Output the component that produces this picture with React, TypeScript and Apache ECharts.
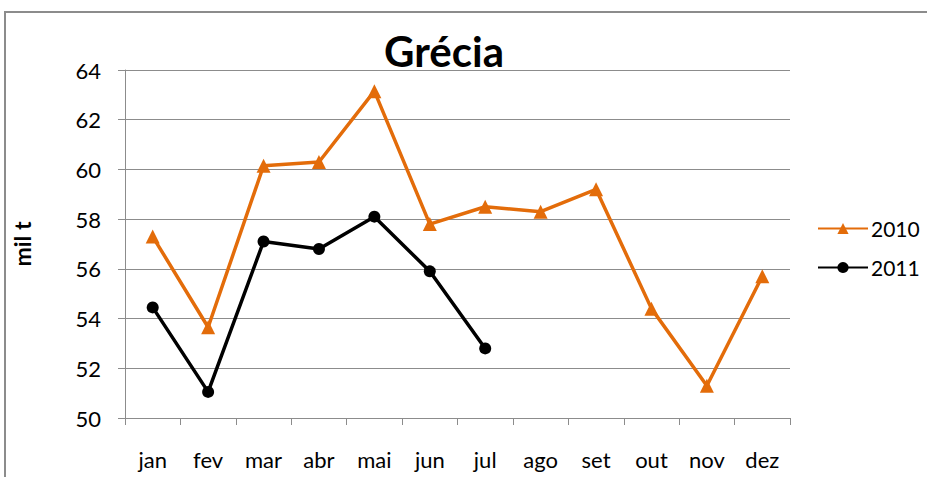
import React, { useEffect, useRef } from "react";
import * as echarts from "echarts";

const months = ["jan", "fev", "mar", "abr", "mai", "jun", "jul", "ago", "set", "out", "nov", "dez"];
const series2010 = [57.3, 53.65, 60.15, 60.3, 63.15, 57.8, 58.5, 58.3, 59.2, 54.4, 51.3, 55.7];
const series2011 = [54.45, 51.05, 57.1, 56.8, 58.1, 55.9, 52.8];
const yTicks = { min: 50, max: 64, interval: 2 };
const titleText = "Grécia";
const yName = "mil t";

const FONT = "Lato, 'Open Sans', sans-serif";

export default function App() {
  const ref = useRef<HTMLDivElement>(null);
  useEffect(() => {
    document.body.style.margin = "0";
    const chart = echarts.init(ref.current!, null, { renderer: "svg" });
    chart.setOption({
      animation: false,
      backgroundColor: "#ffffff",
      textStyle: { fontFamily: FONT },
      graphic: [
        {
          type: "rect",
          shape: { x: 5, y: 12, width: 940, height: 480 },
          style: { fill: "none", stroke: "#8c8c8c", lineWidth: 2 },
          silent: true,
        },
        {
          type: "text",
          x: 444,
          y: 51,
          style: {
            text: titleText,
            fontFamily: FONT,
            fontWeight: "bold",
            fontSize: 42,
            fill: "#000",
            align: "center",
            verticalAlign: "middle",
          },
        },
      ],
      legend: {
        orient: "vertical",
        left: 812,
        top: 213,
        itemWidth: 50,
        itemHeight: 14,
        itemGap: 18,
        textStyle: { fontSize: 21, color: "#000", fontFamily: FONT, padding: [0, 0, 0, -2] },
        data: ["2010", "2011"],
      },
      grid: { left: 125, right: 137, top: 70, bottom: 59 },
      xAxis: {
        type: "category",
        data: months,
        boundaryGap: true,
        axisLine: { lineStyle: { color: "#8c8c8c", width: 1 } },
        axisTick: { show: true, length: 7, lineStyle: { color: "#8c8c8c" } },
        axisLabel: { color: "#000", fontSize: 22, margin: 30, fontFamily: FONT },
      },
      yAxis: {
        type: "value",
        min: yTicks.min,
        max: yTicks.max,
        interval: yTicks.interval,
        name: yName,
        nameLocation: "middle",
        nameRotate: 90,
        nameGap: 92,
        nameTextStyle: { fontWeight: "bold", fontSize: 23, color: "#000", fontFamily: FONT },
        axisLine: { show: true, lineStyle: { color: "#8c8c8c", width: 1 } },
        axisTick: { show: true, length: 7, lineStyle: { color: "#8c8c8c" } },
        splitLine: { lineStyle: { color: "#8c8c8c", width: 1 } },
        axisLabel: { color: "#000", fontSize: 22, margin: 24, fontFamily: FONT },
      },
      series: [
        {
          name: "2010",
          type: "line",
          data: series2010,
          symbol: "triangle",
          symbolSize: 14,
          itemStyle: { color: "#e36c0a" },
          lineStyle: { color: "#e36c0a", width: 3.5 },
        },
        {
          name: "2011",
          type: "line",
          data: series2011,
          symbol: "circle",
          symbolSize: 12,
          itemStyle: { color: "#000" },
          lineStyle: { color: "#000", width: 3.5 },
        },
      ],
    });
    return () => chart.dispose();
  }, []);
  return <div ref={ref} style={{ position: "absolute", left: 0, top: 0, width: 927, height: 477 }} />;
}
